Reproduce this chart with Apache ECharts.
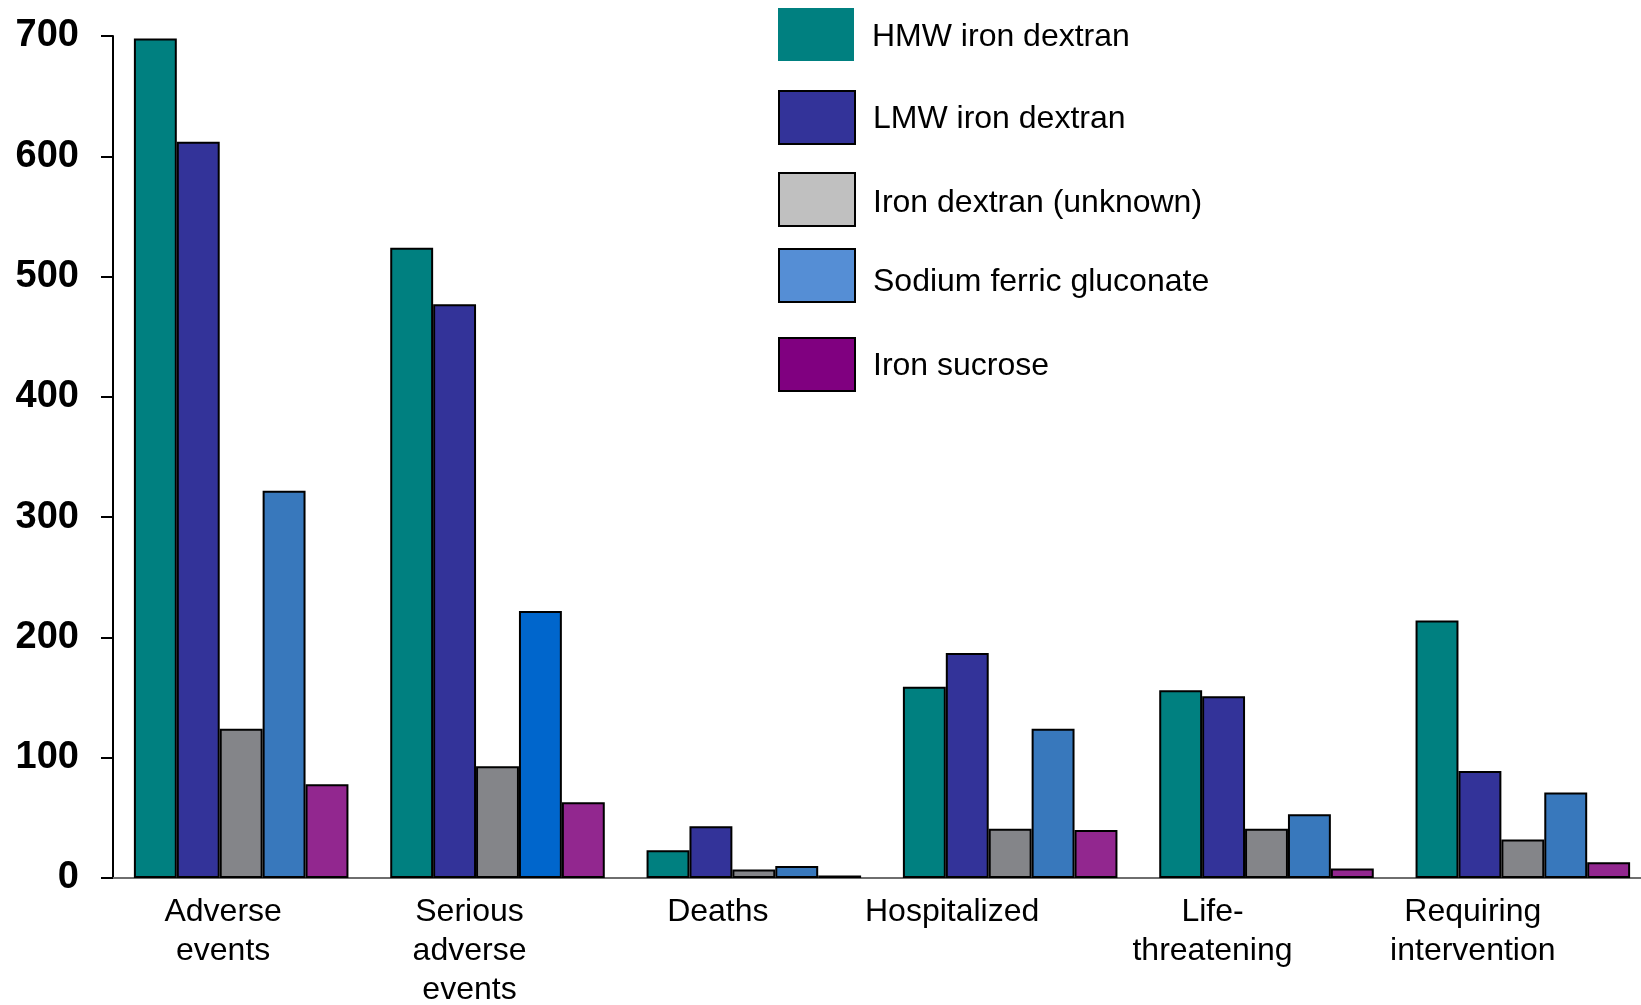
<!DOCTYPE html>
<html>
<head>
<meta charset="utf-8">
<script src="https://cdn.jsdelivr.net/npm/echarts@6/dist/echarts.min.js"></script>
<style>
  html, body { margin: 0; padding: 0; background: #fff; }
  #chart { width: 1641px; height: 1005px; }
</style>
</head>
<body>
<div id="chart"></div>
<script>
// Categories of reported events
const categories = ['Adverse\nevents', 'Serious\nadverse\nevents', 'Deaths', 'Hospitalized', 'Life-\nthreatening', 'Requiring\nintervention'];

// Number of reports per iron product
const hmwIronDextran = [698, 524, 23, 159, 156, 214];
const lmwIronDextran = [612, 477, 43, 187, 151, 89];
const ironDextranUnknown = [124, 93, 7, 41, 41, 32];
const sodiumFerricGluconate = [322, 222, 10, 124, 53, 71];
const ironSucrose = [78, 63, 2, 40, 8, 13];

// Y-axis range
const yMin = 0;
const yMax = 700;
const yStep = 100;

// Leftward nudge (px) of each category caption relative to its bar group
const labelNudge = [18, 28, 36, 58, 54, 50];

// Vertical placement of each legend row (px from top) and the drop of its caption
const legendRowTop = [8, 90, 172, 248, 337];
const legendTextDrop = [3, 2, 4, 7, 2];

const FONT = '"Liberation Sans", Arial, sans-serif';

const seriesDefs = [
  { name: 'HMW iron dextran', data: hmwIronDextran, bar: '#008080', legend: '#008080', legendBorder: 0 },
  { name: 'LMW iron dextran', data: lmwIronDextran, bar: '#333399', legend: '#333399', legendBorder: 2 },
  { name: 'Iron dextran (unknown)', data: ironDextranUnknown, bar: '#848589', legend: '#C0C0C0', legendBorder: 2 },
  { name: 'Sodium ferric gluconate', data: sodiumFerricGluconate, bar: '#3878BC', legend: '#558ED5', legendBorder: 2,
    overrides: { 1: '#0066CC' } },
  { name: 'Iron sucrose', data: ironSucrose, bar: '#92278F', legend: '#800080', legendBorder: 2 }
];

// Rich-text styles: right padding shifts a centred caption to the left
const labelRich = {};
labelNudge.forEach((d, i) => {
  labelRich['c' + i] = {
    fontFamily: FONT, fontSize: 32, lineHeight: 39, color: '#000',
    padding: [0, 2 * d, 0, 0]
  };
});

const chart = echarts.init(document.getElementById('chart'), null, { renderer: 'canvas' });

chart.setOption({
  animation: false,
  backgroundColor: '#ffffff',
  // plot area runs slightly past the right edge of the canvas
  grid: { left: 113, width: 1538, top: 36, bottom: 127, containLabel: false, outerBoundsMode: 'none' },
  legend: seriesDefs.map((s, i) => ({
    orient: 'vertical',
    left: 778,
    top: legendRowTop[i],
    padding: 0,
    itemWidth: 76,
    itemHeight: 53,
    icon: 'rect',
    selectedMode: false,
    formatter: name => '{t|' + name + '}',
    textStyle: {
      fontFamily: FONT, fontSize: 32, color: '#000',
      rich: {
        t: {
          fontFamily: FONT, fontSize: 32, color: '#000',
          padding: [2 * legendTextDrop[i], 0, 0, 13]
        }
      }
    },
    data: [{
      name: s.name,
      itemStyle: { color: s.legend, borderColor: '#000', borderWidth: s.legendBorder }
    }]
  })),
  xAxis: {
    type: 'category',
    data: categories,
    axisLine: { lineStyle: { color: '#6e6e6e', width: 2 } },
    axisTick: { show: false },
    axisLabel: {
      interval: 0,
      margin: 15,
      formatter: (value, index) => value.split('\n').map(line => '{c' + index + '|' + line + '}').join('\n'),
      rich: labelRich
    }
  },
  yAxis: {
    type: 'value',
    min: yMin,
    max: yMax,
    interval: yStep,
    axisLine: { show: true, lineStyle: { color: '#000', width: 2 } },
    axisTick: { show: true, length: 12, lineStyle: { color: '#000', width: 2 } },
    splitLine: { show: false },
    axisLabel: {
      fontFamily: FONT,
      fontSize: 38,
      fontWeight: 'bold',
      color: '#000',
      margin: 34
    }
  },
  series: seriesDefs.map(s => ({
    name: s.name,
    type: 'bar',
    barGap: '0%',
    barCategoryGap: '16.3%',
    itemStyle: { color: s.bar, borderColor: '#000', borderWidth: 2 },
    data: s.data.map((v, i) => (s.overrides && s.overrides[i])
      ? { value: v, itemStyle: { color: s.overrides[i] } }
      : v)
  }))
});
</script>
</body>
</html>
